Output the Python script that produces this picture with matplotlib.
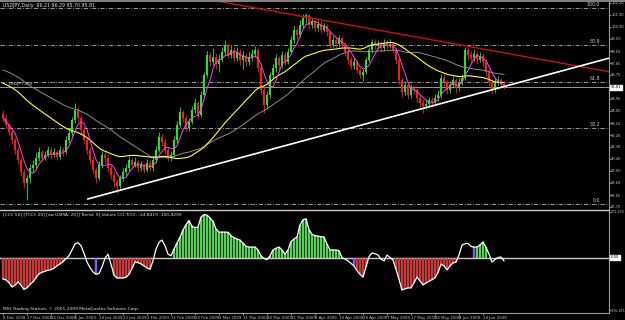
import numpy as np
import pandas as pd
import matplotlib
matplotlib.use("Agg")
import matplotlib.pyplot as plt
import matplotlib.transforms as mtransforms
from matplotlib.lines import Line2D

plt.rcParams["font.family"] = ["Liberation Sans Narrow", "DejaVu Sans"]

# ---- data (USDJPY daily, 8 Dec 2008 .. mid Jun 2009) ----
first_open = 93.80
closes = [
    93.49, 92.96, 92.43, 91.82, 91.07, 90.31, 89.40, 88.57, 88.95, 89.70,
    89.93, 90.46, 90.91, 90.46, 90.69, 91.07, 90.69, 90.91, 90.54, 91.07,
    90.91, 91.82, 92.35, 93.34, 94.10, 93.49, 92.58, 91.82, 91.07, 90.31,
    89.55, 88.95, 89.93, 90.69, 90.46, 89.70, 89.17, 88.64, 88.34, 88.95,
    89.40, 89.70, 90.31, 89.93, 90.16, 89.70, 89.93, 89.55, 90.08, 89.70,
    90.31, 91.07, 92.05, 91.67, 91.07, 90.46, 90.69, 91.82, 92.96, 93.94,
    93.49, 92.73, 93.19, 94.10, 94.63, 93.72, 95.23, 96.75, 98.26, 97.73,
    98.11, 97.58, 97.88, 98.49, 99.02, 98.26, 98.64, 98.03, 98.49, 97.88,
    98.19, 97.73, 98.03, 98.34, 98.64, 97.28, 95.61, 94.47, 95.23, 96.75,
    97.28, 98.03, 97.50, 98.26, 97.73, 98.49, 99.40, 100.16, 99.78, 100.53,
    101.06, 101.29, 100.53, 100.76, 100.31, 100.61, 100.16, 100.46, 100.00, 99.02,
    99.40, 99.09, 99.55, 99.02, 98.49, 97.88, 97.43, 97.73, 97.13, 96.75,
    96.97, 97.88, 98.64, 99.25, 98.94, 99.09, 98.79, 99.17, 98.94, 99.09,
    98.64, 97.88, 96.37, 95.46, 95.99, 95.23, 95.76, 95.61, 95.00, 94.63,
    94.40, 94.55, 94.85, 94.70, 95.00, 95.23, 96.52, 96.22, 95.61, 95.99,
    96.37, 95.76, 96.22, 96.52, 98.64, 98.26, 98.03, 98.34, 97.88, 98.19,
    97.73, 96.97, 96.22, 95.61, 96.22, 96.37, 96.07, 95.81,
]
highs = [
    94.10, 93.70, 93.10, 92.60, 92.00, 91.30, 90.50, 89.60, 89.20, 90.00,
    90.30, 90.90, 91.30, 91.10, 91.00, 91.40, 91.30, 91.20, 91.10, 91.40,
    91.30, 92.10, 92.70, 93.60, 94.60, 94.30, 93.70, 92.80, 92.00, 91.30,
    90.60, 89.80, 90.20, 91.00, 90.90, 90.70, 89.90, 89.40, 88.90, 89.20,
    89.70, 90.00, 90.60, 90.50, 90.50, 90.30, 90.20, 90.10, 90.40, 90.30,
    90.60, 91.40, 92.40, 92.30, 91.90, 91.30, 91.00, 92.10, 93.30, 94.30,
    94.10, 93.70, 93.50, 94.40, 95.00, 94.80, 95.50, 97.00, 98.60, 98.50,
    98.80, 98.40, 98.30, 98.90, 99.40, 99.20, 99.00, 98.90, 98.90, 98.70,
    98.60, 98.40, 98.50, 98.70, 98.95, 98.80, 97.40, 95.90, 95.50, 97.00,
    97.60, 98.30, 98.20, 98.60, 98.50, 98.80, 99.70, 100.50, 100.40, 100.90,
    101.40, 101.45, 101.40, 101.10, 100.90, 100.90, 100.80, 100.70, 100.60, 100.10,
    99.70, 99.60, 99.80, 99.70, 99.20, 98.70, 98.10, 98.00, 97.90, 97.30,
    97.20, 98.10, 98.90, 99.50, 99.50, 99.40, 99.30, 99.50, 99.40, 99.50,
    99.30, 98.80, 98.00, 96.60, 96.30, 96.20, 96.10, 96.00, 95.80, 95.20,
    94.90, 94.90, 95.10, 95.10, 95.30, 95.60, 96.80, 96.80, 96.40, 96.30,
    96.70, 96.50, 96.50, 96.80, 98.90, 98.90, 98.60, 98.70, 98.50, 98.50,
    98.40, 97.90, 97.20, 96.40, 96.50, 96.70, 96.50, 96.29,
]
lows = [
    93.20, 92.70, 92.20, 91.50, 90.80, 90.00, 89.10, 88.20, 87.30, 88.60,
    89.40, 89.70, 90.20, 90.20, 90.30, 90.50, 90.40, 90.50, 90.30, 90.40,
    90.60, 90.80, 91.60, 92.10, 93.10, 93.20, 92.30, 91.50, 90.80, 90.00,
    89.30, 88.60, 88.80, 89.70, 90.10, 89.40, 88.90, 88.30, 87.80, 88.10,
    88.70, 89.20, 89.50, 89.70, 89.80, 89.40, 89.50, 89.30, 89.40, 89.50,
    89.50, 90.10, 90.90, 91.40, 90.80, 90.20, 90.20, 90.50, 91.60, 92.80,
    93.20, 92.50, 92.50, 93.00, 93.90, 93.40, 93.60, 95.10, 96.60, 97.40,
    97.50, 97.20, 97.00, 97.70, 98.30, 98.00, 98.00, 97.70, 97.80, 97.50,
    97.20, 97.40, 97.50, 97.80, 98.10, 97.00, 95.30, 93.90, 94.20, 95.00,
    96.50, 97.00, 97.20, 97.30, 97.50, 97.60, 98.30, 99.20, 99.50, 99.60,
    100.30, 100.70, 100.20, 100.30, 100.00, 100.10, 99.90, 100.00, 99.70, 98.80,
    98.90, 98.80, 98.90, 98.80, 98.20, 97.60, 97.20, 97.20, 96.90, 96.50,
    96.30, 96.80, 97.70, 98.40, 98.70, 98.70, 98.50, 98.60, 98.70, 98.80,
    98.40, 97.60, 96.10, 95.10, 95.20, 94.90, 95.00, 95.30, 94.70, 94.30,
    93.90, 94.20, 94.30, 94.40, 94.50, 94.80, 95.00, 95.90, 95.30, 95.40,
    95.80, 95.40, 95.50, 96.00, 96.40, 97.90, 97.70, 97.80, 97.60, 97.70,
    97.40, 96.70, 95.90, 95.30, 95.40, 96.00, 95.80, 95.70,
]

# moving averages: period and the value they start at on the left edge
ma_slow_period, ma_slow_start = 50, 97.20   # grey
ma_mid_period, ma_mid_start = 34, 96.20     # yellow
ma_fast_period = 5                          # magenta

# trend lines (bar index, price)
red_line_bars = [71.3, 202.3]
red_line_prices = [102.35, 96.98]
white_line_bars = [28.3, 202.3]
white_line_prices = [87.36, 98.04]

# fibo levels
fib_prices = [101.82, 99.02, 96.22, 92.73, 86.98]
fib_labels = ["100.0", "80.9", "61.8", "38.2", "0.0"]
bid_price = 95.81

price_ticks = [102.20, 101.30, 100.40, 99.50, 98.55, 97.65, 96.75, 94.95,
               94.05, 93.10, 92.20, 91.30, 90.40, 89.50, 88.60, 87.65, 86.75]

# CCI window
cci = [
    -128, -133, -150, -175, -165, -145, -165, -190, -180, -160,
    -145, -120, -97, -88, -82, -76, -72, -64, -50, -38,
    -24, -8, 10, 45, 80, 88, 70, 25, -27, -60,
    -86, -100, -95, -56, -5, 20, -40, -105, -122, -122,
    -122, -118, -100, -65, -27, -30, -38, -50, -62, -70,
    -20, 50, 90, 104, 70, 20, 10, 50, 86, 120,
    163, 195, 220, 185, 178, 181, 240, 255, 252, 235,
    215, 170, 151, 151, 151, 150, 130, 118, 110, 104,
    85, 66, 62, 62, 62, 45, 10, -5, -13, 10,
    45, 55, 62, 45, 20, 45, 95, 110, 122, 193,
    225, 230, 165, 138, 130, 127, 124, 122, 80, 45,
    45, 45, 40, 0, -10, -20, -35, -50, -78, -100,
    -116, -55, 5, 27, 22, 15, -10, -20, 15, 0,
    -15, -70, -130, -193, -186, -181, -181, -150, -116, -140,
    -163, -152, -142, -132, -120, -90, -40, -50, -74, -50,
    -32, -28, 15, 74, 82, 84, 66, 62, 62, 75,
    92, 60, 20, -27, -12, 0, 3, -20,
]
# trend state runs: r = down, g = up, p = turn, n = none
trend_runs = [("r", 21), ("n", 10), ("p", 1), ("n", 5), ("r", 13), ("n", 7),
              ("g", 30), ("n", 2), ("g", 24), ("n", 4), ("p", 1), ("r", 4),
              ("n", 9), ("r", 21), ("n", 5), ("p", 1), ("g", 4), ("n", 6)]

date_bars = [0, 8, 16, 24, 32, 40, 48, 56, 64, 72, 80, 88, 96, 104, 112,
             120, 128, 136, 144, 152, 160]
date_labels = ["8 Dec 2008", "17 Dec 2008", "26 Dec 2008", "5 Jan 2009",
               "14 Jan 2009", "23 Jan 2009", "2 Feb 2009", "11 Feb 2009",
               "20 Feb 2009", "2 Mar 2009", "11 Mar 2009", "20 Mar 2009",
               "31 Mar 2009", "9 Apr 2009", "19 Apr 2009", "28 Apr 2009",
               "7 May 2009", "17 May 2009", "26 May 2009", "4 Jun 2009",
               "14 Jun 2009"]

# ---------------------------------------------------------------------------
c = np.array(closes)
h = np.array(highs)
l = np.array(lows)
o = np.concatenate([[first_open], c[:-1]])
idx = np.arange(len(c))


def seeded_sma(values, n, start):
    # window padded on the left with the level the line starts at
    padded = np.concatenate([np.full(n - 1, start), values])
    return pd.Series(padded).rolling(n).mean().values[n - 1:]


ma_slow = seeded_sma(c, ma_slow_period, ma_slow_start)
ma_mid = seeded_sma(c, ma_mid_period, ma_mid_start)
ma_fast = pd.Series(c).rolling(ma_fast_period, min_periods=1).mean().values

W, H = 625, 320
fig = plt.figure(figsize=(W / 100, H / 100), dpi=100, facecolor="black")


def box(x0, y0, x1, y1):
    return [x0 / W, 1 - y1 / H, (x1 - x0) / W, (y1 - y0) / H]


ax = fig.add_axes(box(0, 2, 609, 209))
ax2 = fig.add_axes(box(0, 210, 609, 313), sharex=ax)
for a in (ax, ax2):
    a.set_facecolor("black")
    for s in a.spines.values():
        s.set_visible(False)
    a.spines["right"].set_visible(True)
    a.spines["right"].set_color("#9a9a9a")
    a.spines["right"].set_linewidth(0.8)

px = 15.45 / 204.0
ax.set_ylim(86.75 - 2 * px, 102.20 + px)
ax.set_xlim(-1, 202.0)

# candles
up = c >= o
cols = np.where(up, "#22e622", "#ff1a1a")
ax.vlines(idx, l, h, colors=cols, linewidth=0.6, zorder=3)
body = np.maximum(np.abs(c - o), 0.04)
ax.bar(idx, body, bottom=np.minimum(o, c), width=0.62, color=cols, linewidth=0, zorder=4)

ax.plot(idx, ma_slow, color="#8c8c8c", lw=0.7, zorder=5)
ax.plot(idx, ma_mid, color="#ffff30", lw=0.8, zorder=5)
ax.plot(idx, ma_fast, color="#ff40ff", lw=0.7, zorder=6)

ax.plot(red_line_bars, red_line_prices, color="#cc1010", lw=1.0, zorder=7)
ax.plot(white_line_bars, white_line_prices, color="white", lw=1.2, zorder=7)

for p, lab in zip(fib_prices, fib_labels):
    ax.axhline(p, color="#b4b4b4", lw=0.6, ls=(0, (5, 2, 1, 2)), zorder=2)
    ax.text(199, p + 0.06, lab, color="#c8c8c8", fontsize=3.4, ha="right", va="bottom")
ax.axhline(bid_price, color="#8fa08f", lw=0.7, zorder=2)
ax.text(2, 96.05, "USDJPY,sell", color="#c8c8c8", fontsize=3.2, va="center")

ax.yaxis.tick_right()
ax.set_yticks(price_ticks)
ax.set_yticklabels([f"{v:.2f}" for v in price_ticks])
ax.tick_params(axis="y", colors="#c8c8c8", labelsize=2.6, length=1.2, width=0.5, pad=0.4)
ax.tick_params(axis="x", bottom=False, labelbottom=False)
tr = mtransforms.blended_transform_factory(ax.transAxes, ax.transData)
ax.text(1.003, bid_price, "95.81", transform=tr, fontsize=2.7, color="black", va="center",
        bbox=dict(boxstyle="square,pad=0.12", fc="white", ec="white"))

# CCI pane
upv = 5.95
ax2.set_ylim(-55.5 * upv, 47.5 * upv)
states = []
for s, n in trend_runs:
    states += [s] * n
states = np.array(states)
cv = np.array(cci, dtype=float)
hist_cols = {"r": "#d41c1c", "g": "#3ad23a", "p": "#8a3cff"}
for s, col in hist_cols.items():
    m = states == s
    ax2.bar(idx[m], cv[m], width=0.62, color=col, edgecolor="#f0f0f0", linewidth=0.15, zorder=3)
ax2.axhline(0, color="#c8c8c8", lw=1.0, zorder=2)
ax2.plot(idx, cv, color="white", lw=0.9, zorder=4)
ax2.spines["top"].set_visible(True)
ax2.spines["top"].set_color("#c8c8c8")
ax2.spines["top"].set_linewidth(1.0)
ax2.spines["bottom"].set_visible(True)
ax2.spines["bottom"].set_color("#9a9a9a")
ax2.spines["bottom"].set_linewidth(0.8)

ax2.yaxis.tick_right()
ax2.set_yticks([273.27, -315.185])
ax2.set_yticklabels(["273.270", "-315.185"])
ax2.tick_params(axis="y", colors="#c8c8c8", labelsize=2.3, length=1.2, width=0.5, pad=0.4)
tr2 = mtransforms.blended_transform_factory(ax2.transAxes, ax2.transData)
ax2.text(1.003, 0, "0.00", transform=tr2, fontsize=2.7, color="black", va="center",
         bbox=dict(boxstyle="square,pad=0.12", fc="white", ec="white"))

ax2.set_xticks(date_bars)
ax2.set_xticklabels(date_labels, ha="left")
ax2.tick_params(axis="x", colors="#c8c8c8", labelsize=2.8, length=1.5, width=0.5, pad=0.5)

# texts
fig.text(3 / W, 1 - 3 / H, "USDJPY,Daily  96.21 96.29 95.70 95.81", color="#e0e0e0",
         fontsize=3.4, va="top")
fig.text(3 / W, 1 - 212 / H,
         "[CCI: 50] [TCCI: 20] [sw USMA: 20] [Trend: 5] Values CCI,TCCI: -24.8419 -100.4299",
         color="#e0e0e0", fontsize=3.2, va="top")
fig.text(3 / W, 1 - 311 / H, "MIG Trading Station, \u00a9 2001-2009 MetaQuotes Software Corp.",
         color="#e0e0e0", fontsize=3.2, va="bottom")
fig.add_artist(Line2D([0, 1], [1 - 0.8 / H, 1 - 0.8 / H], color="#9a9a9a", lw=1.2))

fig.savefig("out.png", dpi=100, facecolor="black")
